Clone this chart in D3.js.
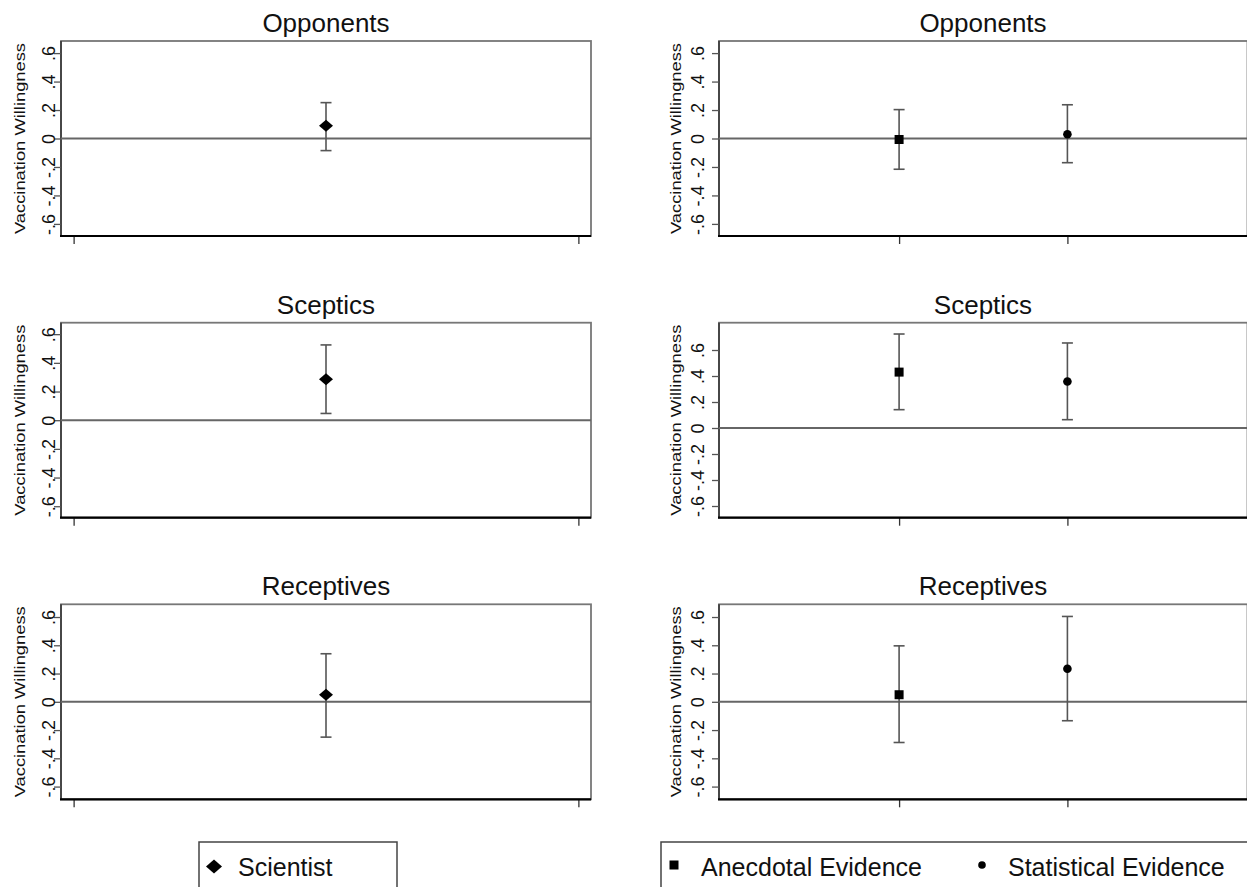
<!DOCTYPE html>
<html>
<head>
<meta charset="utf-8">
<script src="https://cdn.jsdelivr.net/npm/d3@7"></script>
<style>
  body { margin: 0; background: #fff; }
  text { font-family: "Liberation Sans", Arial, sans-serif; fill: #111; }
</style>
</head>
<body>
<div id="chart"></div>
<script>
// group titles (one row each)
const groups = ['Opponents', 'Sceptics', 'Receptives'];

// left column: scientist
const scientistEst = [0.09, 0.285, 0.05];
const scientistLo = [-0.085, 0.047, -0.25];
const scientistHi = [0.252, 0.525, 0.34];

// right column: anecdotal vs statistical evidence
const anecdotalEst = [-0.007, 0.43, 0.05];
const anecdotalLo = [-0.216, 0.141, -0.288];
const anecdotalHi = [0.203, 0.723, 0.396];
const statisticalEst = [0.03, 0.358, 0.234];
const statisticalLo = [-0.17, 0.064, -0.134];
const statisticalHi = [0.237, 0.654, 0.604];

const yTicks = [-0.6, -0.4, -0.2, 0, 0.2, 0.4, 0.6];
const leftDomains = [[-0.685, 0.685], [-0.68, 0.68], [-0.69, 0.69]];
const rightDomains = [[-0.685, 0.685], [-0.69, 0.81], [-0.69, 0.69]];

const width = 1247, height = 887;
const rowTops = [41, 322.7, 604.3];
const plotH = 195;

const svg = d3.select('#chart').append('svg')
    .attr('width', width)
    .attr('height', height);

// Stata style labels: ".6", "-.4", "0"
const fmt = d => d === 0 ? '0' : d3.format('.1f')(d).replace('\u2212', '-').replace('0.', '.');

const columns = [
  {x0: 61, x1: 591, xDomain: [-0.05, 2.05], xTicks: [0, 2], labelGap: 6, titleGap: 42,
   domains: leftDomains,
   series: [{est: scientistEst, lo: scientistLo, hi: scientistHi, pos: 1, shape: 'diamond'}]},
  {x0: 719, x1: 1247.5, xDomain: [-0.07, 3.07], xTicks: [1, 2], labelGap: 15, titleGap: 44,
   domains: rightDomains,
   series: [{est: anecdotalEst, lo: anecdotalLo, hi: anecdotalHi, pos: 1, shape: 'square'},
            {est: statisticalEst, lo: statisticalLo, hi: statisticalHi, pos: 2, shape: 'circle'}]}
];

function drawMarker(g, shape, cx, cy, big) {
  if (shape === 'diamond') {
    const w = big ? 8 : 7, h = big ? 7 : 6;
    g.append('path')
        .attr('d', `M${cx - w},${cy}L${cx},${cy - h}L${cx + w},${cy}L${cx},${cy + h}Z`)
        .attr('fill', '#000');
  } else if (shape === 'square') {
    g.append('rect')
        .attr('x', cx - 4.5).attr('y', cy - 4.5)
        .attr('width', 9).attr('height', 9)
        .attr('fill', '#000');
  } else {
    g.append('circle')
        .attr('cx', cx).attr('cy', cy)
        .attr('r', big ? 3.8 : 4.3)
        .attr('fill', '#000');
  }
}

columns.forEach(col => {
  const x = d3.scaleLinear().domain(col.xDomain).range([col.x0, col.x1]);

  groups.forEach((grp, i) => {
    const top = rowTops[i];
    const y = d3.scaleLinear().domain(col.domains[i]).range([top + plotH, top]);
    const g = svg.append('g');

    // plot region outline
    g.append('rect')
        .attr('x', col.x0).attr('y', top)
        .attr('width', col.x1 - col.x0).attr('height', plotH)
        .attr('fill', 'none')
        .attr('stroke', '#777')
        .attr('stroke-width', 1.8);
    g.append('line')
        .attr('x1', col.x0).attr('x2', col.x0)
        .attr('y1', top).attr('y2', top + plotH)
        .attr('stroke', '#333').attr('stroke-width', 1.5);

    // zero line
    g.append('line')
        .attr('x1', col.x0).attr('x2', col.x1)
        .attr('y1', y(0)).attr('y2', y(0))
        .attr('stroke', '#666').attr('stroke-width', 2);

    // y axis
    const yAxis = g.append('g')
        .attr('transform', `translate(${col.x0},0)`)
        .call(d3.axisLeft(y).tickValues(yTicks).tickFormat(fmt).tickSize(7));
    yAxis.select('.domain').remove();
    yAxis.selectAll('line').attr('stroke', '#555').attr('stroke-width', 1.3);
    yAxis.selectAll('text')
        .attr('transform', 'rotate(-90)')
        .attr('x', 0)
        .attr('y', -col.labelGap)
        .attr('dy', 0)
        .attr('text-anchor', 'middle')
        .attr('font-size', 18)
        .style('font-size', '18px')
        .style('font-family', '"Liberation Sans", Arial, sans-serif')
        .attr('fill', '#111');

    // y axis title
    g.append('text')
        .attr('transform', `translate(${col.x0 - col.titleGap + 6},${top + plotH / 2}) rotate(-90)`)
        .attr('text-anchor', 'middle')
        .attr('textLength', 191)
        .attr('lengthAdjust', 'spacingAndGlyphs')
        .style('font-size', '15.5px')
        .text('Vaccination Willingness');

    // x axis
    const xAxis = g.append('g')
        .attr('transform', `translate(0,${top + plotH})`)
        .call(d3.axisBottom(x).tickValues(col.xTicks).tickFormat('').tickSize(8));
    xAxis.select('.domain').remove();
    xAxis.selectAll('line').attr('stroke', '#333').attr('stroke-width', 1.3);
    g.append('line')
        .attr('x1', col.x0 - 1).attr('x2', col.x1)
        .attr('y1', top + plotH).attr('y2', top + plotH)
        .attr('stroke', '#000').attr('stroke-width', 2.2);

    // panel title
    g.append('text')
        .attr('x', (col.x0 + Math.min(col.x1, width)) / 2)
        .attr('y', top - 9)
        .attr('text-anchor', 'middle')
        .style('font-size', '26px')
        .text(grp);

    // estimates with confidence intervals
    col.series.forEach(s => {
      const cx = x(s.pos);
      g.append('line')
          .attr('x1', cx).attr('x2', cx)
          .attr('y1', y(s.lo[i])).attr('y2', y(s.hi[i]))
          .attr('stroke', '#555').attr('stroke-width', 1.6);
      [s.lo[i], s.hi[i]].forEach(v => {
        g.append('line')
            .attr('x1', cx - 5.5).attr('x2', cx + 5.5)
            .attr('y1', y(v)).attr('y2', y(v))
            .attr('stroke', '#555').attr('stroke-width', 1.6);
      });
      drawMarker(g, s.shape, cx, y(s.est[i]), false);
    });
  });
});

// legends
const legTop = 842;
const leg1 = svg.append('g');
leg1.append('rect')
    .attr('x', 199).attr('y', legTop)
    .attr('width', 198).attr('height', 60)
    .attr('fill', 'none').attr('stroke', '#444').attr('stroke-width', 1.5);
drawMarker(leg1, 'diamond', 214, 866.5, true);
leg1.append('text').attr('x', 238).attr('y', 875.5)
    .style('font-size', '25px').text('Scientist');

const leg2 = svg.append('g');
leg2.append('rect')
    .attr('x', 661).attr('y', legTop)
    .attr('width', 600).attr('height', 60)
    .attr('fill', 'none').attr('stroke', '#444').attr('stroke-width', 1.5);
drawMarker(leg2, 'square', 674, 865, true);
leg2.append('text').attr('x', 701).attr('y', 876)
    .style('font-size', '25px').text('Anecdotal Evidence');
drawMarker(leg2, 'circle', 982, 865, true);
leg2.append('text').attr('x', 1008).attr('y', 876)
    .style('font-size', '25px').text('Statistical Evidence');
</script>
</body>
</html>
